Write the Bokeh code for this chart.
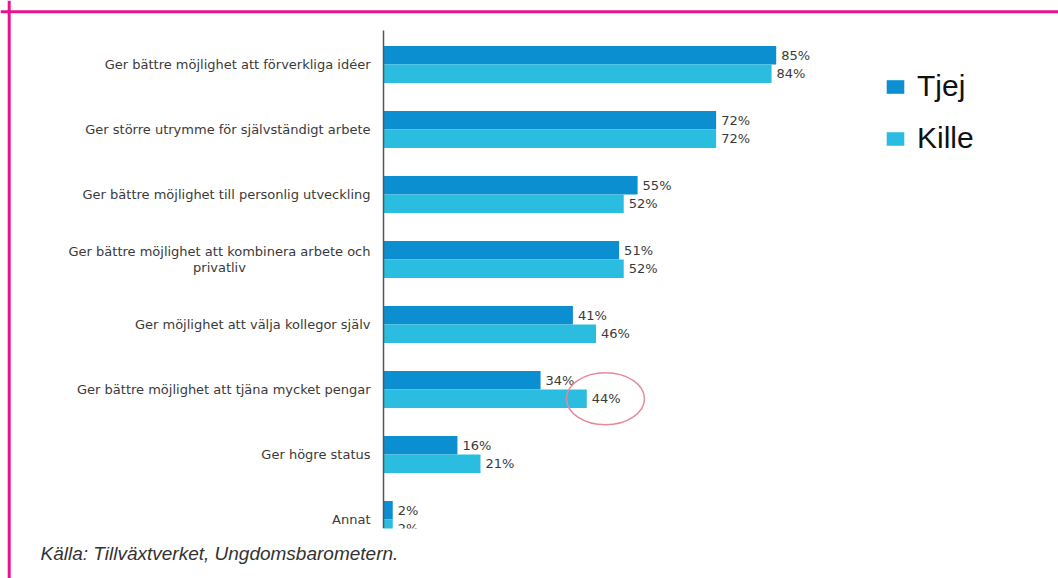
from bokeh.plotting import figure
from bokeh.models import Range1d, Span, BoxAnnotation, Label, ColumnDataSource
from bokeh.embed import file_html
from bokeh.resources import INLINE
from bokeh.core.properties import value

# ---------------- data ----------------
categories = [
    "Ger bättre möjlighet att förverkliga idéer",
    "Ger större utrymme för självständigt arbete",
    "Ger bättre möjlighet till personlig utveckling",
    "Ger bättre möjlighet att kombinera arbete och\nprivatliv",
    "Ger möjlighet att välja kollegor själv",
    "Ger bättre möjlighet att tjäna mycket pengar",
    "Ger högre status",
    "Annat",
]
tjej = [85, 72, 55, 51, 41, 34, 16, 2]
kille = [84, 72, 52, 52, 46, 44, 21, 2]
series_names = ["Tjej", "Kille"]
source_note = "Källa: Tillväxtverket, Ungdomsbarometern."
highlight_index = 5  # Kille, "tjäna mycket pengar"

# ---------------- layout / style ----------------
W, H = 1058, 578
X0 = 383            # canvas px of 0 %
PX_PER_PCT = 4.62
Y0 = 64             # canvas px of first group centre
GROUP_PX = 65
BAR_PX = 18.5
TJEJ_COLOR = "#0b8fd0"
KILLE_COLOR = "#2bbde0"
MAGENTA = "#e8148c"
TEXT_COLOR = "#3a3a3a"


def xd(px):
    return (px - X0) / PX_PER_PCT


def yd(py):
    return (py - Y0) / GROUP_PX


p = figure(width=W, height=H,
           x_range=Range1d(xd(0), xd(W)), y_range=Range1d(yd(H), yd(0)),
           output_backend="svg", toolbar_location=None,
           x_axis_location=None, y_axis_location=None,
           min_border=0, outline_line_color=None,
           background_fill_color="white", border_fill_color="white")
p.grid.grid_line_color = None

bh = BAR_PX / GROUP_PX
idx = list(range(len(categories)))
src = ColumnDataSource(dict(
    y_t=[i - bh / 2 for i in idx],
    y_k=[i + bh / 2 for i in idx],
    tjej=tjej, kille=kille,
    lt=[f"{v}%" for v in tjej],
    lk=[f"{v}%" for v in kille],
))

p.hbar(y="y_t", left=0, right="tjej", height=bh, source=src,
       fill_color=TJEJ_COLOR, line_color=None, legend_label=series_names[0])
p.hbar(y="y_k", left=0, right="kille", height=bh, source=src,
       fill_color=KILLE_COLOR, line_color=None, legend_label=series_names[1])

for col_x, col_y, col_t in (("tjej", "y_t", "lt"), ("kille", "y_k", "lk")):
    p.text(x=col_x, y=col_y, text=col_t, source=src, x_offset=5,
           text_align="left", text_baseline="middle",
           text_font=value("DejaVu Sans"), text_font_size="13px",
           text_color=TEXT_COLOR)

# category labels
single = [(i, c) for i, c in enumerate(categories) if "\n" not in c]
multi = [(i, c) for i, c in enumerate(categories) if "\n" in c]
p.text(x=[0] * len(single), y=[i for i, _ in single], text=[c for _, c in single],
       x_offset=-13, text_align="right", text_baseline="middle",
       text_font=value("DejaVu Sans"), text_font_size="13px", text_color=TEXT_COLOR)
p.text(x=[0] * len(multi), y=[i for i, _ in multi], text=[c for _, c in multi],
       x_offset=-164, text_align="center", text_baseline="middle", text_line_height=1.05,
       text_font=value("DejaVu Sans"), text_font_size="13px", text_color=TEXT_COLOR)

# vertical axis line
p.segment(x0=[0], x1=[0], y0=[yd(30)], y1=[yd(528)], line_color="#555555", line_width=1.5)

# highlight ellipse
p.ellipse(x=[kille[highlight_index] + 18.7 / PX_PER_PCT], y=[highlight_index + bh / 2],
          width=78, height=52, width_units="screen", height_units="screen",
          fill_color=None, line_color="#e38a9c", line_width=1.5)

# crop at the bottom of the pasted chart
p.add_layout(BoxAnnotation(left=xd(X0 - 12), right=xd(X0 + 200), top=yd(528), bottom=yd(544),
                           fill_color="white", fill_alpha=1.0, line_color=None))

# magenta frame (top & left)
p.add_layout(Span(location=yd(11.3), dimension="width", line_color=MAGENTA, line_width=3))
p.add_layout(Span(location=xd(8.7), dimension="height", line_color=MAGENTA, line_width=3))

# source note
p.add_layout(Label(x=xd(40), y=yd(553), text=source_note, text_font="Liberation Sans",
                   text_font_style="italic", text_font_size="19px", text_color="#333333",
                   text_baseline="middle"))

# legend
lg = p.legend[0]
lg.location = (884, 422)
lg.border_line_color = None
lg.background_fill_alpha = 0
lg.padding = 0
lg.margin = 0
lg.spacing = 16
lg.glyph_width = 22
lg.glyph_height = 17
lg.label_standoff = 11
lg.label_height = 36
lg.label_text_font = "Liberation Sans"
lg.label_text_font_size = "30px"
lg.label_text_color = "#111111"
lg.label_text_baseline = "middle"

open("out.html", "w").write(file_html(p, INLINE))
